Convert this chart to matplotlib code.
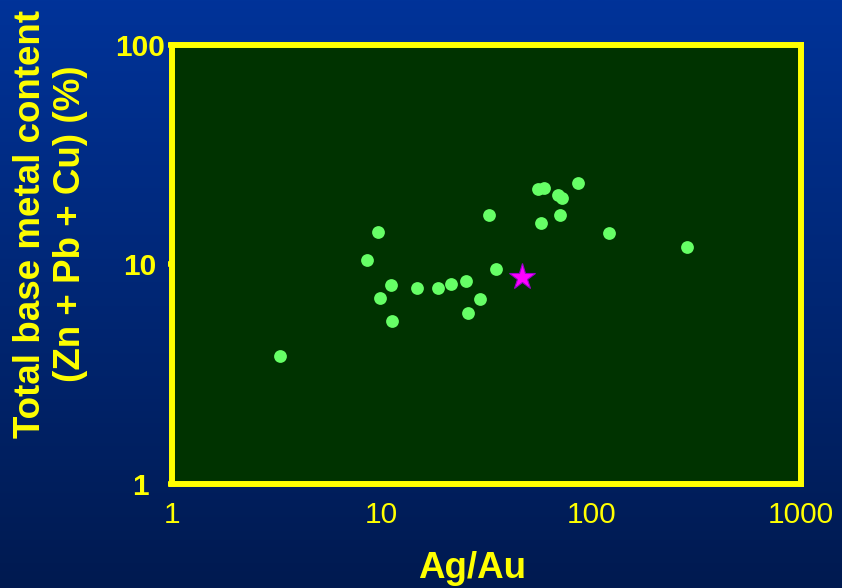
import numpy as np
import matplotlib
matplotlib.use('Agg')
import matplotlib.pyplot as plt
from matplotlib.colors import LinearSegmentedColormap

# Ag/Au ratio vs total base metal content (%)
ag_au = [3.27, 8.5, 9.6, 9.8, 11.1, 11.2, 14.7, 18.6, 21.4, 25.2, 25.8, 29.4,
         32.5, 35.1, 55.7, 59.5, 57.5, 69.3, 72.4, 70.9, 86.4, 121, 286]
base_metal = [3.83, 10.5, 14.1, 7.03, 8.07, 5.53, 7.81, 7.81, 8.15, 8.41, 6.01, 6.96,
              16.8, 9.54, 22.1, 22.2, 15.5, 20.7, 20.1, 16.8, 23.5, 13.9, 12.0]

star_x = [46.7]
star_y = [8.77]

x_ticks = [1, 10, 100, 1000]
y_ticks = [1, 10, 100]

yellow = '#FFFF00'


def main():
    plt.rcParams['font.family'] = ['Liberation Sans', 'DejaVu Sans']
    fig = plt.figure(figsize=(8.42, 5.88), dpi=100)

    # gradient background
    bg = fig.add_axes([0, 0, 1, 1], zorder=-1)
    cmap = LinearSegmentedColormap.from_list('bg', ['#003399', '#011a50'])
    bg.imshow(np.linspace(0, 1, 256).reshape(-1, 1), aspect='auto', cmap=cmap,
              extent=[0, 1, 0, 1])
    bg.axis('off')

    ax = fig.add_axes([0.2043, 0.1769, 0.747, 0.7466])
    ax.set_facecolor('#003300')
    ax.plot(ag_au, base_metal, 'o', color='#66FF66', ms=9.2, mew=0)
    ax.plot(star_x, star_y, '*', color='#FF00FF', ms=20, mec='#9900CC', mew=0.8)

    ax.set_xscale('log')
    ax.set_yscale('log')
    ax.set_xlim(1, 1000)
    ax.set_ylim(1, 100)
    ax.minorticks_off()
    ax.set_xticks(x_ticks)
    ax.set_xticklabels([str(v) for v in x_ticks], fontsize=21.5, color=yellow)
    ax.set_yticks(y_ticks)
    ax.set_yticklabels([str(v) for v in y_ticks], fontsize=21.5, color=yellow,
                       fontweight='bold', ha='center')
    ax.tick_params(axis='x', length=0, pad=12)
    ax.tick_params(axis='y', length=3, width=4, color=yellow, pad=20)

    for s in ax.spines.values():
        s.set_color(yellow)
        s.set_linewidth(4.3)

    fig.text(0.06, 0.619, 'Total base metal content\n(Zn + Pb + Cu) (%)',
             rotation=90, ha='center', va='center', fontsize=26.5,
             fontweight='bold', color=yellow, linespacing=1.15)
    fig.text(0.5606, 0.034, 'Ag/Au', ha='center', va='center', fontsize=26.5,
             fontweight='bold', color=yellow)

    fig.savefig('out.png', dpi=100)


if __name__ == '__main__':
    main()
